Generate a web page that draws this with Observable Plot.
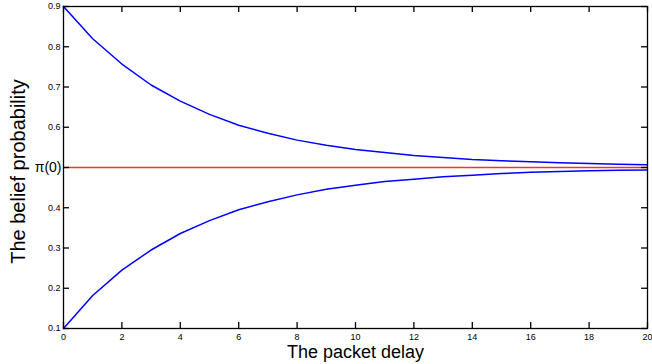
<!DOCTYPE html>
<html><head><meta charset="utf-8">
<script src="https://cdn.jsdelivr.net/npm/d3@7"></script>
<script src="https://cdn.jsdelivr.net/npm/@observablehq/plot@0.6"></script>
<style>body{margin:0;background:#fff;font-family:"Liberation Sans",Arial,sans-serif}</style>
</head><body><div id="chart"></div>
<script>
const delays = [0,1,2,3,4,5,6,7,8,9,10,11,12,13,14,15,16,17,18,19,20];
const upperBelief = [0.9,0.82,0.757,0.705,0.665,0.632,0.605,0.585,0.568,0.555,0.545,0.537,0.53,0.525,0.52,0.517,0.514,0.512,0.51,0.508,0.507];
const lowerBelief = [0.1,0.182,0.245,0.295,0.336,0.368,0.395,0.415,0.432,0.446,0.456,0.465,0.471,0.477,0.481,0.485,0.488,0.49,0.492,0.493,0.494];
const prior = 0.5;
const priorLabel = "π(0)";
const xTicks = [0,2,4,6,8,10,12,14,16,18,20];
const yTicks = [0.1,0.2,0.3,0.4,0.5,0.6,0.7,0.8,0.9];
const xLabel = "The packet delay";
const yLabel = "The belief probability";

const W = 652, H = 364, ML = 63, MR = 5, MT = 6, MB = 36;
const plotW = W - ML - MR, plotH = H - MT - MB, tickLen = 6;

const upperData = delays.map((d, i) => ({delay: d, p: upperBelief[i]}));
const lowerData = delays.map((d, i) => ({delay: d, p: lowerBelief[i]}));

const chart = Plot.plot({
  width: W, height: H,
  marginLeft: ML, marginRight: MR, marginTop: MT, marginBottom: MB,
  style: {fontFamily: "Liberation Sans, Arial, sans-serif", color: "black", background: "white"},
  x: {domain: [0, 20]},
  y: {domain: [0.1, 0.9]},
  marks: [
    Plot.ruleY([prior], {stroke: "#e2401c", strokeWidth: 1.5}),
    Plot.line(upperData, {x: "delay", y: "p", stroke: "#0000ff", strokeWidth: 1.5}),
    Plot.line(lowerData, {x: "delay", y: "p", stroke: "#0000ff", strokeWidth: 1.5}),
    // inward tick marks
    Plot.tickX(xTicks, {x: d => d, insetTop: plotH - tickLen, stroke: "black", strokeWidth: 1.3}),
    Plot.tickX(xTicks, {x: d => d, insetBottom: plotH - tickLen, stroke: "black", strokeWidth: 1.3}),
    Plot.tickY(yTicks, {y: d => d, insetRight: plotW - tickLen, stroke: "black", strokeWidth: 1.3}),
    Plot.tickY(yTicks, {y: d => d, insetLeft: plotW - tickLen, stroke: "black", strokeWidth: 1.3}),
    // tick labels
    Plot.axisX({anchor: "bottom", ticks: xTicks, tickSize: 0, tickPadding: 5, fontSize: 9, label: null}),
    Plot.axisY({anchor: "left", ticks: yTicks, tickSize: 0, tickPadding: 3, fontSize: 9, tickFormat: d => d === prior ? "" : d3.format(".1f")(d), label: null}),
    Plot.text([prior], {x: 0, y: d => d, text: () => priorLabel, textAnchor: "end", dx: -2, fontSize: 14}),
    // axis titles
    Plot.text([xLabel], {frameAnchor: "bottom", text: d => d, textAnchor: "middle", lineAnchor: "middle", dy: 24, fontSize: 18}),
    Plot.text([yLabel], {frameAnchor: "left", text: d => d, textAnchor: "middle", lineAnchor: "middle", rotate: -90, dx: -45, dy: 4, fontSize: 20}),
    Plot.frame({stroke: "black", strokeWidth: 1.3})
  ]
});
document.getElementById("chart").appendChild(chart);
</script>
</body></html>
